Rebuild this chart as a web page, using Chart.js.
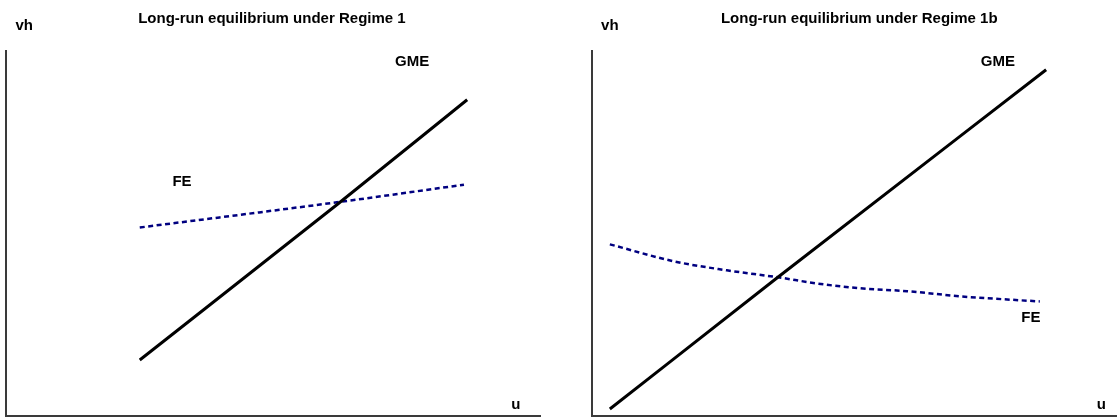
<!DOCTYPE html>
<html>
<head>
<meta charset="utf-8">
<script src="https://cdn.jsdelivr.net/npm/chart.js@4.4.1/dist/chart.umd.min.js"></script>
<style>
  html, body { margin: 0; padding: 0; background: #fff; overflow: hidden; }
  .panel { position: absolute; top: 0; }
  #p1 { left: 0; }
  #p2 { left: 560px; }
</style>
</head>
<body>
<div class="panel" id="p1"><canvas id="c1" width="560" height="417"></canvas></div>
<div class="panel" id="p2"><canvas id="c2" width="557" height="417"></canvas></div>
<script>
// Regime 1 (left panel) - curve points, axis units 0..100
const gme1U = [25.0, 61.9, 86.2];
const gme1V = [15.3, 57.8, 86.4];
const fe1U = [25.0, 61.9, 85.6];
const fe1V = [51.5, 58.4, 63.2];

// Regime 1b (right panel)
const gme2U = [3.4, 35.4, 86.5];
const gme2V = [1.9, 37.9, 94.6];
const fe2U = [3.4, 15.8, 25.7, 35.4, 42.9, 51.0, 60.0, 70.1, 78.3, 85.3];
const fe2V = [46.9, 42.2, 39.8, 37.9, 36.2, 34.9, 34.1, 32.7, 31.9, 31.3];

const titles = ['Long-run equilibrium under Regime 1', 'Long-run equilibrium under Regime 1b'];
const axisNames = ['vh', 'u'];
const curveNames = ['GME', 'FE'];

const FONT = 'bold 15px "Liberation Sans", Arial, sans-serif';

function pts(xs, ys) {
    return xs.map((x, i) => ({ x: x, y: ys[i] }));
}

// axes + text labels, placed in axis units
const decor = {
    id: 'decor',
    afterDraw(chart) {
        const { ctx, chartArea, scales } = chart;
        const opts = chart.options.plugins.decor;
        ctx.save();
        ctx.strokeStyle = '#3a3a3a';
        ctx.lineWidth = 2;
        ctx.beginPath();
        ctx.moveTo(chartArea.left, chartArea.top);
        ctx.lineTo(chartArea.left, chartArea.bottom);
        ctx.lineTo(chartArea.right, chartArea.bottom);
        ctx.stroke();

        ctx.fillStyle = '#000';
        ctx.font = FONT;
        ctx.textAlign = 'center';
        ctx.textBaseline = 'middle';
        opts.labels.forEach(l => {
            ctx.fillText(l.text, scales.x.getPixelForValue(l.x), scales.y.getPixelForValue(l.y));
        });
        ctx.restore();
    }
};

function makeChart(id, gme, fe, pad, labels) {
    new Chart(document.getElementById(id), {
        type: 'scatter',
        data: {
            datasets: [{
                label: curveNames[0],
                data: gme,
                showLine: true,
                borderColor: '#000',
                borderWidth: 3,
                pointRadius: 0,
                cubicInterpolationMode: 'monotone'
            }, {
                label: curveNames[1],
                data: fe,
                showLine: true,
                borderColor: '#000080',
                borderWidth: 2.5,
                borderDash: [5, 3.5],
                pointRadius: 0,
                cubicInterpolationMode: 'monotone'
            }]
        },
        options: {
            responsive: false,
            animation: false,
            devicePixelRatio: 1,
            layout: { padding: pad },
            plugins: {
                legend: { display: false },
                tooltip: { enabled: false },
                decor: { labels: labels }
            },
            scales: {
                x: { type: 'linear', min: 0, max: 100, display: false },
                y: { type: 'linear', min: 0, max: 100, display: false }
            }
        },
        plugins: [decor]
    });
}

makeChart('c1', pts(gme1U, gme1V), pts(fe1U, fe1V),
    { left: 6, right: 19, top: 50, bottom: 1 },
    [
        { text: titles[0], x: 49.7, y: 108.4 },
        { text: axisNames[0], x: 3.4, y: 106.5 },
        { text: axisNames[1], x: 95.3, y: 3.0 },
        { text: curveNames[0], x: 75.9, y: 96.7 },
        { text: curveNames[1], x: 32.9, y: 64.0 }
    ]);

makeChart('c2', pts(gme2U, gme2V), pts(fe2U, fe2V),
    { left: 32, right: 0, top: 50, bottom: 1 },
    [
        { text: titles[1], x: 50.9, y: 108.4 },
        { text: axisNames[0], x: 3.4, y: 106.5 },
        { text: axisNames[1], x: 97.0, y: 3.0 },
        { text: curveNames[0], x: 77.3, y: 96.7 },
        { text: curveNames[1], x: 83.6, y: 26.7 }
    ]);
</script>
</body>
</html>
